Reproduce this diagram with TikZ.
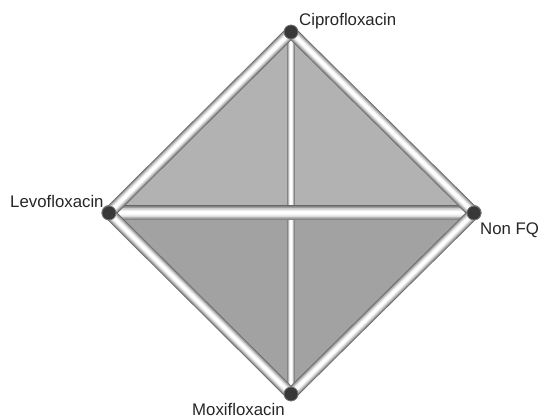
\documentclass[tikz,border=0pt]{standalone}
\usepackage{fontspec}
\setmainfont{Liberation Sans}
\usetikzlibrary{positioning}

\definecolor{upperfill}{HTML}{B2B2B2}
\definecolor{lowerfill}{HTML}{A2A2A2}

\tikzset{
  vtx/.style={circle, fill=black!78, draw=black!55, line width=0.8pt, inner sep=0pt, minimum size=14pt},
  lbl/.style={font=\fontsize{16.8}{18}\selectfont, inner sep=0pt, text=black!85},
}

% tube look: stacked strokes, dark rim to white core
\newcommand{\tube}[3]{%
  \foreach \w/\c in {1/black!60, 0.9/black!48, 0.8/black!38, 0.7/black!29, 0.6/black!21, 0.5/black!14, 0.4/black!8, 0.3/black!3, 0.2/white}
    \draw[line width=#1*\w pt, \c, line cap=round] (#2) -- (#3);
}

\begin{document}
\begin{tikzpicture}[x=1pt,y=-1pt]
  \useasboundingbox (0,0) rectangle (540,419);

  \coordinate (C) at (291,32);
  \coordinate (L) at (109,213);
  \coordinate (R) at (474,213);
  \coordinate (M) at (291,394);

  \fill[upperfill] (L) -- (C) -- (R) -- cycle;
  \fill[lowerfill] (L) -- (M) -- (R) -- cycle;

  \tube{8}{C}{M}
  \tube{15}{L}{R}
  \tube{12}{L}{C}
  \tube{12}{C}{R}
  \tube{12}{R}{M}
  \tube{12}{M}{L}

  \node[vtx] (cip) at (C) {};
  \node[vtx] (levo) at (L) {};
  \node[vtx] (nonfq) at (R) {};
  \node[vtx] (moxi) at (M) {};

  \node[lbl, anchor=base west] (ciplbl) at (299,26) {Ciprofloxacin};
  \node[lbl, anchor=base west] (levolbl) at (10,208) {Levofloxacin};
  \node[lbl, anchor=base west] (nonfqlbl) at (480,235) {Non FQ};
  \node[lbl, anchor=base west] (moxilbl) at (192,415) {Moxifloxacin};
\end{tikzpicture}
\end{document}
